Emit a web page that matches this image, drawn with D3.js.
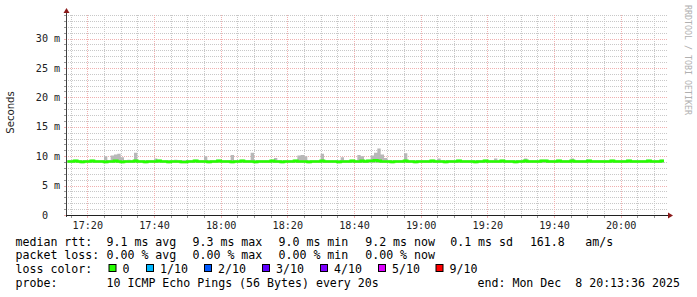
<!DOCTYPE html>
<html><head><meta charset="utf-8">
<script src="https://cdn.jsdelivr.net/npm/d3@7"></script>
<style>html,body{margin:0;padding:0;background:#fff;} svg{display:block;} text{white-space:pre;}</style>
</head><body><svg id="c" width="697" height="297"></svg>
<script>
// ---------------- data ----------------
const startTime = "2025-12-08T17:13:36";
const endTime = "2025-12-08T20:13:36";
const firstSample = "2025-12-08T17:14:00";
const sampleStepMinutes = 1;
// median RTT per minute (ms), 17:14 .. 20:12
const medianRtt = [
 9.1,9.1,9.2,9.1,9.0,9.1,9.1,9.2,9.1,9.1,
 9.1,9.0,9.1,9.1,9.2,9.1,9.0,9.1,9.1,9.1,
 9.2,9.1,9.1,9.0,9.1,9.1,9.1,9.2,9.1,9.1,
 9.0,9.1,9.1,9.1,9.0,9.0,9.1,9.1,9.2,9.1,
 9.1,9.1,9.0,9.1,9.1,9.2,9.1,9.1,9.1,9.0,
 9.1,9.1,9.2,9.1,9.1,9.1,9.0,9.1,9.1,9.1,
 9.1,9.2,9.1,9.1,9.0,9.1,9.1,9.1,9.2,9.1,
 9.1,9.1,9.0,9.1,9.1,9.1,9.2,9.1,9.1,9.1,
 9.1,9.0,9.1,9.1,9.1,9.2,9.1,9.1,9.2,9.1,
 9.2,9.2,9.3,9.2,9.1,9.1,9.1,9.0,9.1,9.1,
 9.1,9.2,9.1,9.1,9.0,9.1,9.1,9.1,9.1,9.2,
 9.1,9.1,9.1,9.0,9.1,9.1,9.1,9.2,9.1,9.1,
 9.1,9.1,9.0,9.1,9.1,9.2,9.1,9.1,9.1,9.1,
 9.2,9.1,9.1,9.1,9.0,9.1,9.1,9.2,9.1,9.1,
 9.1,9.1,9.2,9.2,9.1,9.1,9.1,9.2,9.1,9.1,
 9.1,9.2,9.1,9.1,9.1,9.1,9.2,9.1,9.1,9.1,
 9.1,9.1,9.1,9.2,9.1,9.1,9.1,9.1,9.2,9.1,
 9.1,9.1,9.1,9.1,9.2,9.1,9.1,9.1,9.2
];
// highest ping per minute (top of the smoke), ms
const maxRtt = [
 9.3,9.3,9.4,9.3,9.3,9.3,9.3,9.4,9.3,9.3,
 9.3,10.0,9.3,10.1,10.3,10.4,9.8,9.3,9.4,9.3,
 10.6,9.3,9.3,9.3,9.3,9.3,9.6,9.4,9.3,9.3,
 9.3,9.3,9.4,9.3,9.3,9.3,9.3,9.3,9.4,9.3,
 9.3,10.0,9.3,9.3,9.3,9.4,9.3,9.3,9.3,10.2,
 9.3,9.3,9.4,9.3,9.3,10.6,9.3,9.3,9.3,9.3,
 9.3,9.4,9.7,9.3,9.3,9.3,9.3,9.3,9.4,10.1,
 10.2,10.0,9.3,9.3,9.3,9.3,10.4,9.3,9.3,9.3,
 9.3,9.3,9.8,9.3,9.3,9.4,9.3,10.2,10.0,9.3,
 9.4,10.1,10.6,11.3,10.3,9.7,9.3,9.3,9.3,9.3,
 9.3,10.5,9.3,9.3,9.3,9.3,9.3,9.3,9.3,9.4,
 9.3,9.6,9.3,9.3,9.3,9.3,9.3,9.4,9.3,9.3,
 9.3,9.3,9.3,9.3,9.3,9.4,9.3,9.3,9.6,9.3,
 9.4,9.3,9.3,9.3,9.3,9.3,9.3,9.6,9.3,9.3,
 9.3,9.3,9.4,9.4,9.3,9.3,9.3,9.4,9.3,9.3,
 9.3,9.6,9.3,9.3,9.3,9.3,9.4,9.3,9.3,9.3,
 9.3,9.3,9.3,9.4,9.3,9.3,9.3,9.3,9.4,9.3,
 9.3,9.3,9.3,9.3,9.4,9.3,9.3,9.3,9.4
];
// lowest ping per minute (bottom of the smoke), ms
const minRtt = [
 8.9,8.9,8.9,8.9,8.8,8.9,8.9,8.9,8.9,8.9,
 8.9,8.8,8.9,8.9,8.9,8.9,8.8,8.9,8.9,8.9,
 8.9,8.9,8.9,8.8,8.9,8.9,8.9,8.9,8.9,8.9,
 8.8,8.9,8.9,8.9,8.8,8.8,8.9,8.9,8.9,8.9,
 8.9,8.9,8.8,8.9,8.9,8.9,8.9,8.9,8.9,8.8,
 8.9,8.9,8.9,8.9,8.9,8.9,8.8,8.9,8.9,8.9,
 8.9,8.9,8.9,8.9,8.8,8.9,8.9,8.9,8.9,8.9,
 8.9,8.9,8.8,8.9,8.9,8.9,8.9,8.9,8.9,8.9,
 8.9,8.8,8.9,8.9,8.9,8.9,8.9,8.9,8.9,8.9,
 8.9,8.9,8.9,8.9,8.9,8.9,8.9,8.8,8.9,8.9,
 8.9,8.9,8.9,8.9,8.8,8.9,8.9,8.9,8.9,8.9,
 8.9,8.9,8.9,8.8,8.9,8.9,8.9,8.9,8.9,8.9,
 8.9,8.9,8.8,8.9,8.9,8.9,8.9,8.9,8.9,8.9,
 8.9,8.9,8.9,8.9,8.8,8.9,8.9,8.9,8.9,8.9,
 8.9,8.9,8.9,8.9,8.9,8.9,8.9,8.9,8.9,8.9,
 8.9,8.9,8.9,8.9,8.9,8.9,8.9,8.9,8.9,8.9,
 8.9,8.9,8.9,8.9,8.9,8.9,8.9,8.9,8.9,8.9,
 8.9,8.9,8.9,8.9,8.9,8.9,8.9,8.9,8.9
];
const yMax = 34;
const yTickValues = [0, 5, 10, 15, 20, 25, 30];
const yTickUnit = "m";
const yAxisTitle = "Seconds";
const medianLabel = "median rtt:";
const medianStats = ["9.1 ms avg", "9.3 ms max", "9.0 ms min", "9.2 ms now", "0.1 ms sd", "161.8", "am/s"];
const lossLabel = "packet loss:";
const lossStats = ["0.00 % avg", "0.00 % max", "0.00 % min", "0.00 % now"];
const lossColorLabel = "loss color:";
const lossBins = ["0", "1/10", "2/10", "3/10", "4/10", "5/10", "9/10"];
const lossBinColors = ["#26ff00", "#00b8ff", "#0059ff", "#5e00ff", "#7e00ff", "#dd00ff", "#ff0000"];
const probeLabel = "probe:";
const probeText = "10 ICMP Echo Pings (56 Bytes) every 20s";
const endText = "end: Mon Dec  8 20:13:36 2025";
const watermark = "RRDTOOL / TOBI OETIKER";

// ---------------- layout ----------------
const PL = 66, PR = 666, PT = 15, PB = 215;
const svg = d3.select("#c");
const mono = "'DejaVu Sans Mono', monospace";

const x = d3.scaleTime().domain([new Date(startTime), new Date(endTime)]).range([PL, PR]);
const y = d3.scaleLinear().domain([0, yMax]).range([PB, PT]);

const t0 = new Date(firstSample);
const samples = medianRtt.map((m, i) => ({
  t: d3.timeMinute.offset(t0, i * sampleStepMinutes), med: m, max: maxRtt[i], min: minRtt[i]
}));
const last = samples[samples.length - 1];
const stepped = samples.concat([{t: d3.timeMinute.offset(last.t, sampleStepMinutes), med: last.med, max: last.max, min: last.min}]);

// grid
const g = svg.append("g");
const minorCol = "#c8c8c8", majorCol = "#f0b0b0";
const yMinor = d3.range(0, yMax + 1, 1).filter(v => v % 5 !== 0);
g.selectAll(".hm").data(yMinor).enter().append("line")
  .attr("x1", PL).attr("x2", PR + 2).attr("y1", d => Math.round(y(d)) + 0.5).attr("y2", d => Math.round(y(d)) + 0.5)
  .attr("stroke", minorCol).attr("stroke-dasharray", "1,1");
const xMinor = x.ticks(d3.timeMinute.every(5)).filter(d => d.getMinutes() % 20 !== 0);
g.selectAll(".vm").data(xMinor).enter().append("line")
  .attr("x1", d => Math.round(x(d)) + 0.5).attr("x2", d => Math.round(x(d)) + 0.5).attr("y1", PT).attr("y2", PB)
  .attr("stroke", minorCol).attr("stroke-dasharray", "1,1");
const xMajor = x.ticks(d3.timeMinute.every(20));
g.selectAll(".vM").data(xMajor).enter().append("line")
  .attr("x1", d => Math.round(x(d)) + 0.5).attr("x2", d => Math.round(x(d)) + 0.5).attr("y1", PT).attr("y2", PB)
  .attr("stroke", majorCol).attr("stroke-dasharray", "1,1");
g.selectAll(".hM").data(yTickValues.filter(v => v > 0)).enter().append("line")
  .attr("x1", PL).attr("x2", PR + 2).attr("y1", d => Math.round(y(d)) + 0.5).attr("y2", d => Math.round(y(d)) + 0.5)
  .attr("stroke", majorCol).attr("stroke-dasharray", "1,1");

// smoke
svg.append("path").datum(stepped)
  .attr("d", d3.area().x(d => x(d.t)).y0(d => y(d.min)).y1(d => y(d.max)).curve(d3.curveStepAfter))
  .attr("fill", "#b8b8b8");
// median line
svg.append("path").datum(stepped)
  .attr("d", d3.line().x(d => x(d.t)).y(d => y(d.med)).curve(d3.curveStepAfter))
  .attr("fill", "none").attr("stroke", lossBinColors[0]).attr("stroke-width", 2.6);

// axes
const axCol = "#404040", arrowCol = "#8b1a1a";
svg.append("line").attr("x1", PL + 0.5).attr("x2", PL + 0.5).attr("y1", 12).attr("y2", PB + 2).attr("stroke", axCol);
svg.append("line").attr("x1", PL - 2).attr("x2", 669).attr("y1", PB + 0.5).attr("y2", PB + 0.5).attr("stroke", "#202020");
svg.append("path").attr("d", `M${PL + 0.5},8 L${PL + 3.5},13 L${PL - 2.5},13 Z`).attr("fill", arrowCol);
svg.append("path").attr("d", `M673,${PB + 0.5} L668,${PB - 2.5} L668,${PB + 3.5} Z`).attr("fill", arrowCol);
// ticks on y axis
svg.selectAll(".ytk").data(d3.range(0, yMax + 1, 1)).enter().append("line")
  .attr("x1", PL - 2).attr("x2", PL).attr("y1", d => Math.round(y(d)) + 0.5).attr("y2", d => Math.round(y(d)) + 0.5)
  .attr("stroke", d => d % 5 === 0 ? majorCol : "#999");
svg.selectAll(".xtk").data(xMinor.concat(xMajor)).enter().append("line")
  .attr("x1", d => Math.round(x(d)) + 0.5).attr("x2", d => Math.round(x(d)) + 0.5).attr("y1", PB + 1).attr("y2", PB + 3)
  .attr("stroke", d => d.getMinutes() % 20 === 0 ? majorCol : "#999");

// y labels
const yl = svg.append("g").attr("font-family", mono).attr("font-size", "10.15px").attr("fill", "#222");
yl.selectAll(".yv").data(yTickValues).enter().append("text")
  .attr("x", 48).attr("y", d => y(d) + 3.6).attr("text-anchor", "end").text(d => d3.format("d")(d));
yl.selectAll(".yu").data(yTickValues.filter(v => v > 0)).enter().append("text")
  .attr("x", 54).attr("y", d => y(d) + 3.6).text(yTickUnit);
// x labels
const fmt = d3.timeFormat("%H:%M");
yl.selectAll(".xv").data(xMajor).enter().append("text")
  .attr("x", d => x(d) + 0.5).attr("y", 229).attr("text-anchor", "middle").text(d => fmt(d));

// axis title
svg.append("text").attr("transform", "translate(13.5,112.5) rotate(-90)").attr("text-anchor", "middle")
  .attr("font-family", "'DejaVu Sans', sans-serif").attr("font-size", "10.15px").attr("fill", "#222").text(yAxisTitle);
// watermark
svg.append("text").attr("transform", "translate(684.5,5) rotate(90)")
  .attr("font-family", mono).attr("font-size", "8.3px").attr("fill", "#b0b0b0").text(watermark);

// legend
const lg = svg.append("g").attr("font-family", mono).attr("font-size", "11.6px").attr("fill", "#000");
const rowY = [245.5, 259.2, 273, 286.7];
const colX = [107.3, 193.3, 279.3, 366, 451, 530.7, 586];
lg.append("text").attr("x", 15.5).attr("y", rowY[0]).text(medianLabel);
medianStats.forEach((s, i) => lg.append("text").attr("x", colX[i] - 0.8).attr("y", rowY[0]).text(s));
lg.append("text").attr("x", 15.5).attr("y", rowY[1]).text(lossLabel);
lossStats.forEach((s, i) => lg.append("text").attr("x", colX[i] - 0.8).attr("y", rowY[1]).text(s));
lg.append("text").attr("x", 15.5).attr("y", rowY[2]).text(lossColorLabel);
const boxX = [108.5, 146, 204, 262, 320, 378, 435.5];
lossBins.forEach((s, i) => {
  lg.append("rect").attr("x", boxX[i] + 0.5).attr("y", rowY[2] - 8.5).attr("width", 7).attr("height", 7)
    .attr("fill", lossBinColors[i]).attr("stroke", "#000").attr("stroke-width", 1);
  lg.append("text").attr("x", boxX[i] + 14).attr("y", rowY[2]).text(s);
});
lg.append("text").attr("x", 15.5).attr("y", rowY[3]).text(probeLabel);
lg.append("text").attr("x", colX[0] - 0.8).attr("y", rowY[3]).text(probeText);
lg.append("text").attr("x", 477.5).attr("y", rowY[3]).text(endText);
</script></body></html>
